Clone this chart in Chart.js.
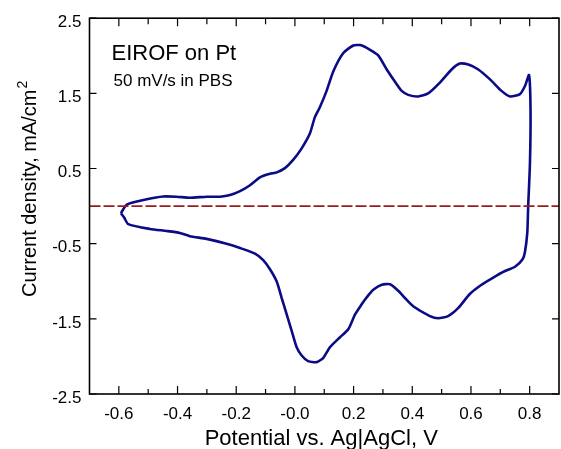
<!DOCTYPE html>
<html>
<head>
<meta charset="utf-8">
<script src="https://cdn.jsdelivr.net/npm/chart.js@4.4.1/dist/chart.umd.min.js"></script>
<style>
    html, body { margin: 0; padding: 0; background: #fff; }
    #wrap { width: 561px; height: 449px; position: relative; }
</style>
</head>
<body>
<div id="wrap"><canvas id="cvChart"></canvas></div>
<script>
// Cyclic voltammogram, EIROF on Pt
const cvPotential = [
    -0.593, -0.573, -0.505, -0.449, -0.403, -0.358, -0.301, -0.255, -0.221, -0.187,
    -0.153, -0.119, -0.085, -0.062, -0.034, -0.006, 0.023, 0.051, 0.068, 0.085,
    0.108, 0.131, 0.165, 0.199, 0.222, 0.256, 0.284, 0.313, 0.347, 0.364,
    0.386, 0.420, 0.454, 0.494, 0.534, 0.562, 0.591, 0.625, 0.665, 0.704,
    0.733, 0.767, 0.784, 0.798, 0.803, 0.801, 0.795, 0.792, 0.784, 0.776,
    0.750, 0.716, 0.676, 0.636, 0.596, 0.557, 0.522, 0.488, 0.460, 0.403,
    0.375, 0.352, 0.324, 0.296, 0.267, 0.250, 0.239, 0.227, 0.205, 0.182,
    0.153, 0.119, 0.097, 0.074, 0.045, 0.023, 0.006, -0.011, -0.028, -0.045,
    -0.062, -0.085, -0.108, -0.136, -0.187, -0.233, -0.301, -0.358, -0.392, -0.437,
    -0.494, -0.568, -0.582, -0.593
];
const cvCurrent = [
    -0.095, 0.020, 0.090, 0.128, 0.125, 0.112, 0.125, 0.125, 0.147, 0.199,
    0.278, 0.383, 0.430, 0.449, 0.505, 0.614, 0.768, 0.965, 1.184, 1.315,
    1.533, 1.795, 2.037, 2.137, 2.142, 2.080, 2.005, 1.818, 1.621, 1.533,
    1.480, 1.459, 1.499, 1.643, 1.818, 1.896, 1.883, 1.818, 1.686, 1.533,
    1.459, 1.490, 1.598, 1.743, 1.270, 0.570, 0.000, -0.350, -0.610, -0.706,
    -0.807, -0.864, -0.951, -1.047, -1.170, -1.354, -1.463, -1.493, -1.463, -1.332,
    -1.223, -1.126, -1.040, -1.047, -1.113, -1.188, -1.244, -1.310, -1.441, -1.638,
    -1.748, -1.879, -2.018, -2.076, -2.063, -1.988, -1.879, -1.660, -1.441, -1.223,
    -1.004, -0.840, -0.719, -0.633, -0.558, -0.501, -0.436, -0.400, -0.357, -0.331,
    -0.304, -0.239, -0.151, -0.095
];

// zero reference line
const zeroLineX = [-0.7, 0.9];
const zeroLineY = [0, 0];

// axes
const xTickValues = [-0.6, -0.4, -0.2, 0.0, 0.2, 0.4, 0.6, 0.8];
const xTickLabels = ['-0.6', '-0.4', '-0.2', '-0.0', '0.2', '0.4', '0.6', '0.8'];
const xMinorTicks = [-0.5, -0.3, -0.1, 0.1, 0.3, 0.5, 0.7];
const yTickValues = [-2.5, -1.5, -0.5, 0.5, 1.5, 2.5];
const yTickLabels = ['-2.5', '-1.5', '-0.5', '0.5', '1.5', '2.5'];

const FONT = "'Liberation Sans', Arial, Helvetica, sans-serif";

// frame, inward ticks and the text labels
const framePlugin = {
    id: 'frame',
    afterDraw(chart) {
        const { ctx, chartArea: a, scales: { x, y } } = chart;
        ctx.save();
        ctx.strokeStyle = '#000';
        ctx.lineWidth = 1.2;
        ctx.beginPath();
        xTickValues.forEach(v => {
            const px = x.getPixelForValue(v);
            ctx.moveTo(px, a.bottom); ctx.lineTo(px, a.bottom - 8);
            ctx.moveTo(px, a.top); ctx.lineTo(px, a.top + 8);
        });
        xMinorTicks.forEach(v => {
            const px = x.getPixelForValue(v);
            ctx.moveTo(px, a.bottom); ctx.lineTo(px, a.bottom - 5);
            ctx.moveTo(px, a.top); ctx.lineTo(px, a.top + 6);
        });
        yTickValues.forEach(v => {
            const py = y.getPixelForValue(v);
            ctx.moveTo(a.left, py); ctx.lineTo(a.left + 7, py);
            ctx.moveTo(a.right, py); ctx.lineTo(a.right - 7, py);
        });
        ctx.stroke();

        ctx.lineWidth = 1.6;
        ctx.strokeRect(a.left, a.top, a.right - a.left, a.bottom - a.top);

        ctx.fillStyle = '#000';
        ctx.textBaseline = 'alphabetic';
        ctx.textAlign = 'left';
        ctx.font = '22px ' + FONT;
        ctx.fillText('EIROF on Pt', a.left + 22, a.top + 42);
        ctx.font = '17px ' + FONT;
        ctx.fillText('50 mV/s in PBS', a.left + 24, a.top + 68);

        // x axis title
        ctx.font = '22px ' + FONT;
        ctx.textAlign = 'center';
        ctx.fillText('Potential vs. Ag|AgCl, V', (a.left + a.right) / 2 - 3, chart.height - 4);

        // y axis title with superscript
        ctx.save();
        ctx.translate(36, a.bottom - 97);
        ctx.rotate(-Math.PI / 2);
        ctx.textAlign = 'left';
        ctx.font = '20px ' + FONT;
        const main = 'Current density, mA/cm';
        ctx.fillText(main, 0, 0);
        const w = ctx.measureText(main).width;
        ctx.font = '14px ' + FONT;
        ctx.fillText('2', w + 1, -9);
        ctx.restore();
        ctx.restore();
    }
};

document.addEventListener('DOMContentLoaded', () => {
    const ctx = document.getElementById('cvChart').getContext('2d');
    new Chart(ctx, {
        type: 'scatter',
        data: {
            datasets: [
                {
                    label: 'zero',
                    data: zeroLineX.map((v, i) => ({ x: v, y: zeroLineY[i] })),
                    showLine: true,
                    borderColor: '#9b1c1c',
                    borderWidth: 1.6,
                    borderDash: [11, 3],
                    pointRadius: 0,
                    order: 0
                },
                {
                    label: 'EIROF on Pt',
                    data: cvPotential.map((v, i) => ({ x: v, y: cvCurrent[i] })),
                    showLine: true,
                    borderColor: '#0b0b86',
                    borderWidth: 2.6,
                    pointRadius: 0,
                    tension: 0.2,
                    order: 1
                }
            ]
        },
        options: {
            responsive: true,
            maintainAspectRatio: false,
            animation: false,
            layout: { padding: { left: 0, right: 2, top: 13, bottom: 0 } },
            plugins: {
                legend: { display: false },
                tooltip: { enabled: false }
            },
            scales: {
                x: {
                    type: 'linear',
                    min: -0.7,
                    max: 0.9,
                    afterBuildTicks: (s) => { s.ticks = xTickValues.map(v => ({ value: v })); },
                    afterFit: (s) => { s.height = 55; },
                    grid: { display: false, drawTicks: false },
                    border: { display: false },
                    ticks: {
                        color: '#000',
                        font: { family: FONT, size: 17 },
                        padding: 10,
                        maxRotation: 0,
                        callback: (v, i) => xTickLabels[i]
                    }
                },
                y: {
                    type: 'linear',
                    min: -2.5,
                    max: 2.5,
                    afterBuildTicks: (s) => { s.ticks = yTickValues.map(v => ({ value: v })); },
                    afterFit: (s) => { s.width = 89.5; },
                    grid: { display: false, drawTicks: false },
                    border: { display: false },
                    ticks: {
                        color: '#000',
                        font: { family: FONT, size: 17 },
                        padding: 8,
                        labelOffset: 4,
                        callback: (v, i) => yTickLabels[i]
                    }
                }
            }
        },
        plugins: [framePlugin]
    });
});
</script>
</body>
</html>
